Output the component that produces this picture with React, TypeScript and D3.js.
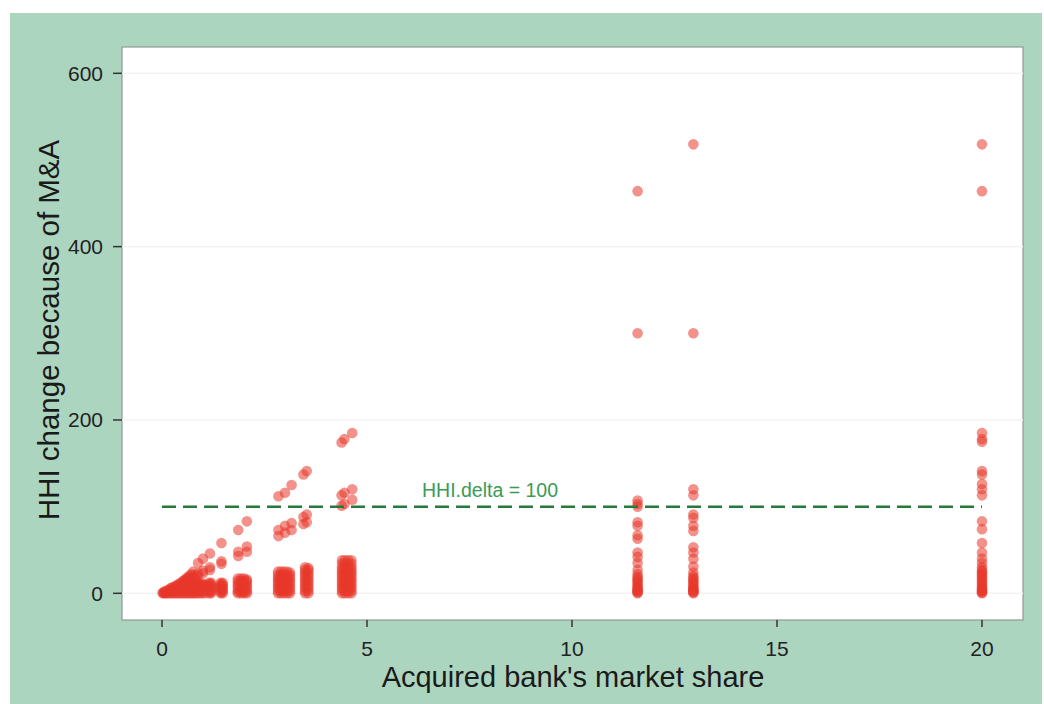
import * as d3 from 'd3';

// axis ticks
const X_TICKS = [0, 5, 10, 15, 20];
const Y_TICKS = [0, 200, 400, 600];
const THRESHOLD = 100;

// dense triangle near the origin: [x, y values]
const TRIANGLE_COLUMNS: [number, number[]][] = [
  [0.02, [0, 1]],
  [0.06, [0, 1, 2]],
  [0.11, [0, 1, 3]],
  [0.16, [0, 2, 4]],
  [0.21, [0, 2, 4, 6]],
  [0.26, [0, 2, 4, 7]],
  [0.31, [0, 3, 6, 8]],
  [0.36, [0, 3, 6, 9]],
  [0.41, [0, 3, 6, 9, 11]],
  [0.46, [0, 3, 6, 9, 12]],
  [0.51, [0, 3, 6, 9, 12, 14]],
  [0.56, [0, 3, 6, 9, 12, 15, 16]],
  [0.61, [0, 3, 6, 9, 12, 15, 18]],
  [0.66, [0, 3, 6, 9, 12, 15, 18, 20]],
  [0.71, [0, 3, 6, 9, 12, 15, 18, 22]],
  [0.76, [0, 3, 6, 9, 12, 15, 18, 21, 25]],
  [0.81, [0, 3, 6, 9, 12, 15, 18]],
  [0.86, [0, 3, 6, 9, 12, 14]],
  [0.92, [0, 3, 6, 9, 11]],
  [0.98, [0, 3, 6, 9, 11]],
  [1.04, [0, 3, 6, 9, 10]]
];

// solid columns of small acquisitions
const BLOCK_COLUMNS: [number, number[]][] = [
  [1.15, [0, 2, 4, 6, 8, 10, 12]],
  [1.2, [0, 2, 4, 6, 8, 10, 12]],
  [1.43, [0, 2, 4, 6, 8, 10, 12]],
  [1.48, [0, 2, 4, 6, 8, 10, 12]],
  [1.85, [0, 2, 5, 8, 11, 14, 17]],
  [1.93, [0, 2, 5, 8, 11, 14, 17]],
  [2.0, [0, 2, 5, 8, 11, 14, 17]],
  [2.07, [0, 2, 5, 8, 11, 14, 16]],
  [2.83, [0, 3, 6, 9, 12, 15, 18, 21, 25]],
  [2.9, [0, 3, 6, 9, 12, 15, 18, 21, 25]],
  [2.97, [0, 3, 6, 9, 12, 15, 18, 21, 25]],
  [3.05, [0, 3, 6, 9, 12, 15, 18, 21, 25]],
  [3.12, [0, 3, 6, 9, 12, 15, 18, 21, 24]],
  [3.49, [0, 3, 6, 9, 12, 15, 18, 21, 24, 27, 30]],
  [3.57, [0, 3, 6, 9, 12, 15, 18, 21, 24, 27, 29]],
  [4.39, [0, 3, 6, 9, 12, 15, 18, 21, 24, 27, 30, 34, 38]],
  [4.46, [0, 3, 6, 9, 12, 15, 18, 21, 24, 27, 30, 34, 38]],
  [4.54, [0, 3, 6, 9, 12, 15, 18, 21, 24, 27, 30, 34, 38]],
  [4.62, [0, 3, 6, 9, 12, 15, 18, 21, 24, 27, 30, 34, 38]]
];

// scattered diagonal points
const DIAG_X = [0.88, 1.0, 1.17, 1.45, 1.86, 2.07, 2.84, 3.0, 3.16, 3.45, 3.53, 4.38, 4.45, 4.64];
const DIAG_HIGH = [35, 40, 46, 58, 73, 83, 112, 116, 125, 137, 141, 174, 178, 185];
const DIAG_MID = [23, 26, 30, 37, 48, 54, 73, 78, 81, 88, 91, 113, 116, 120];
const DIAG_LOW = [20, 23, 27, 34, 43, 48, 66, 70, 73, 80, 82, 101, 103, 108];

// large acquired banks
const BIG_COLUMNS: [number, number[]][] = [
  [11.6, [464, 300, 107, 103, 100, 82, 78, 67, 63, 47, 42, 35, 27, 22, 19, 17, 15, 13, 11, 9, 7, 5, 4, 3, 2, 1, 0]],
  [12.96, [518, 300, 120, 113, 91, 87, 78, 72, 53, 47, 40, 31, 24, 20, 18, 16, 14, 12, 10, 8, 6, 5, 4, 3, 2, 1, 0]],
  [20, [518, 464, 185, 178, 175, 141, 137, 126, 120, 113, 83, 74, 58, 47, 40, 35, 30, 27, 25, 23, 21, 19, 17, 15, 13, 11, 9, 7, 5, 4, 3, 2, 1, 0]]
];

const W = 1044;
const H = 704;
const panel = { left: 122, top: 47, right: 1023, bottom: 620 };
const FONT = 'Liberation Sans, Arial, sans-serif';

export default function App() {
  const x = d3.scaleLinear().domain([0, 20]).range([162, 982]);
  const y = d3.scaleLinear().domain([0, 600]).range([593.3, 73.3]);

  const points: [number, number][] = [];
  [...TRIANGLE_COLUMNS, ...BLOCK_COLUMNS, ...BIG_COLUMNS].forEach(([cx, ys]) => {
    ys.forEach((v) => points.push([cx, v]));
  });
  DIAG_X.forEach((dx, i) => {
    points.push([dx, DIAG_HIGH[i]]);
    points.push([dx, DIAG_MID[i]]);
    points.push([dx, DIAG_LOW[i]]);
  });

  return (
    <svg width={W} height={H} style={{ position: 'absolute', left: 0, top: 0 }} fontFamily={FONT}>
      <rect x={0} y={0} width={W} height={H} fill="#fff" />
      <rect x={10} y={13} width={1032} height={691} fill="#acd5c0" />
      <rect
        x={panel.left}
        y={panel.top}
        width={panel.right - panel.left}
        height={panel.bottom - panel.top}
        fill="#fff"
        stroke="#8f9a94"
        strokeWidth={1.2}
      />
      {Y_TICKS.map((t) => (
        <line key={'g' + t} x1={panel.left} x2={panel.right} y1={y(t)} y2={y(t)} stroke="#f3f3f3" strokeWidth={1.5} />
      ))}
      <g>
        {points.map(([px, py], i) => (
          <circle key={i} cx={x(px)} cy={y(py)} r={5.3} fill="#e8392b" fillOpacity={0.55} />
        ))}
      </g>
      <line
        x1={x(0)}
        x2={x(20)}
        y1={y(THRESHOLD)}
        y2={y(THRESHOLD)}
        stroke="#237a3a"
        strokeWidth={2.5}
        strokeDasharray="14,7"
      />
      <text x={490} y={497} textAnchor="middle" fontSize={19.5} fill="#3c9a55">
        HHI.delta = 100
      </text>
      {X_TICKS.map((t) => (
        <g key={'x' + t}>
          <line x1={x(t)} x2={x(t)} y1={panel.bottom} y2={panel.bottom + 7} stroke="#333" strokeWidth={1.5} />
          <text x={x(t)} y={656} textAnchor="middle" fontSize={21} fill="#222">
            {t}
          </text>
        </g>
      ))}
      {Y_TICKS.map((t) => (
        <g key={'y' + t}>
          <line x1={panel.left - 9} x2={panel.left} y1={y(t)} y2={y(t)} stroke="#333" strokeWidth={1.5} />
          <text x={103} y={y(t) + 7.5} textAnchor="end" fontSize={21} fill="#222">
            {t}
          </text>
        </g>
      ))}
      <text x={573} y={687} textAnchor="middle" fontSize={29} fill="#1a1a1a">
        Acquired bank's market share
      </text>
      <text
        transform={`translate(59,330) rotate(-90)`}
        textAnchor="middle"
        fontSize={29.5}
        fill="#1a1a1a"
      >
        HHI change because of M&amp;A
      </text>
    </svg>
  );
}
